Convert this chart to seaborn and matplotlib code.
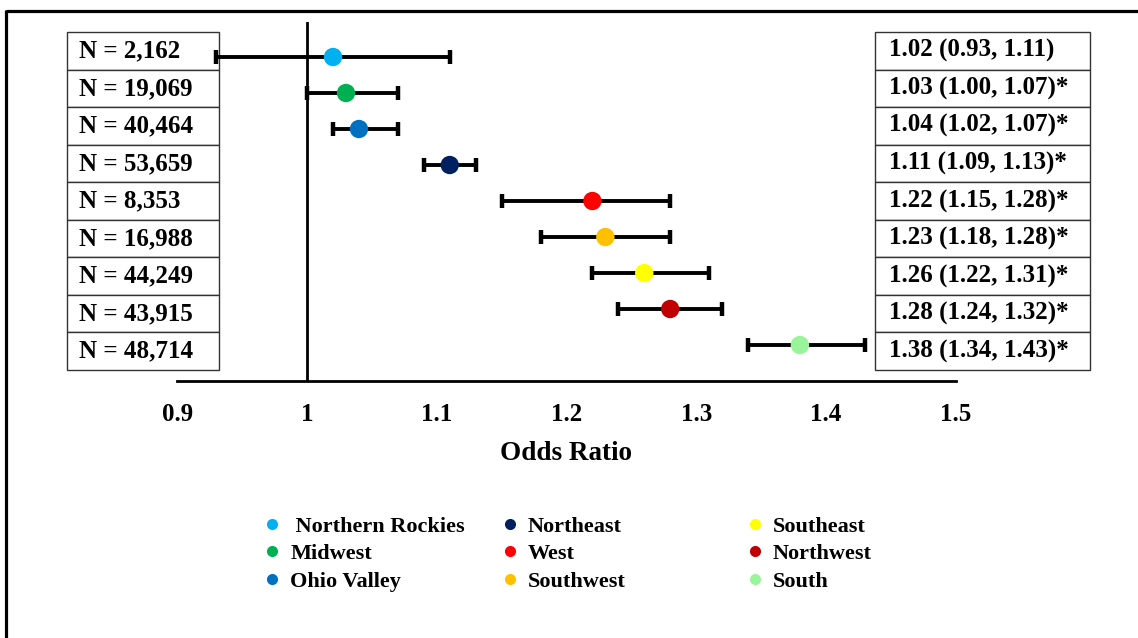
import matplotlib
matplotlib.use("Agg")
import matplotlib.pyplot as plt
from matplotlib.lines import Line2D
from matplotlib.patches import Rectangle
import pandas as pd
import seaborn as sns

# ---- data -------------------------------------------------------------
regions = ["Northern Rockies", "Midwest", "Ohio Valley", "Northeast", "West",
           "Southwest", "Southeast", "Northwest", "South"]
sample_sizes = ["N = 2,162", "N = 19,069", "N = 40,464", "N = 53,659", "N = 8,353",
                "N = 16,988", "N = 44,249", "N = 43,915", "N = 48,714"]
odds_ratio = [1.02, 1.03, 1.04, 1.11, 1.22, 1.23, 1.26, 1.28, 1.38]
ci_lower = [0.93, 1.00, 1.02, 1.09, 1.15, 1.18, 1.22, 1.24, 1.34]
ci_upper = [1.11, 1.07, 1.07, 1.13, 1.28, 1.28, 1.31, 1.32, 1.43]
significant = [False, True, True, True, True, True, True, True, True]
region_colors = ["#00B0F0", "#00B050", "#0070C0", "#002060", "#FF0000",
                 "#FFC000", "#FFFF00", "#C00000", "#99F599"]
x_ticks = [0.9, 1.0, 1.1, 1.2, 1.3, 1.4, 1.5]
x_tick_labels = ["0.9", "1", "1.1", "1.2", "1.3", "1.4", "1.5"]

df = pd.DataFrame({"region": regions, "or": odds_ratio, "lo": ci_lower,
                   "hi": ci_upper, "row": range(len(regions))})

# ---- style ------------------------------------------------------------
sns.set_theme(style="white")
plt.rcParams["font.family"] = ["Liberation Serif", "DejaVu Serif"]
plt.rcParams["font.weight"] = "bold"
plt.rcParams["text.color"] = "black"
plt.rcParams["axes.labelcolor"] = "black"
plt.rcParams["xtick.color"] = "black"
plt.rcParams["ytick.color"] = "black"

W, H = 1138, 638
fig = plt.figure(figsize=(W / 100, H / 100), dpi=100)
fig.patch.set_facecolor("white")

# pixel-space overlay for frame and side tables
bg = fig.add_axes([0, 0, 1, 1], zorder=0)
bg.set_xlim(0, W)
bg.set_ylim(H, 0)
bg.axis("off")

# outer frame (top and left edges)
bg.plot([6.5, W], [10.5, 10.5], color="black", lw=2.3, solid_capstyle="butt")
bg.plot([6.5, 6.5], [9.5, H], color="black", lw=2.3, solid_capstyle="butt")

# side tables
row_top, row_h = 32.0, 37.56
left_tab = (67, 219)
right_tab = (875, 1090)
for i in range(len(regions)):
    y0 = row_top + i * row_h
    for (xa, xb) in (left_tab, right_tab):
        bg.add_patch(Rectangle((xa, y0), xb - xa, row_h, facecolor="white",
                               edgecolor="#333333", lw=1.0))
    bg.text(left_tab[0] + 12, y0 + row_h / 2, sample_sizes[i], fontsize=18,
            fontweight="bold", va="center", ha="left", color="black")
    label = f"{odds_ratio[i]:.2f} ({ci_lower[i]:.2f}, {ci_upper[i]:.2f})"
    if significant[i]:
        label += "*"
    bg.text(right_tab[0] + 14, y0 + row_h / 2, label, fontsize=18,
            fontweight="bold", va="center", ha="left", color="black")

# ---- forest plot ------------------------------------------------------
x_px0, x_px1 = 177.4, 955.5
y_top, y_bot = 22.0, 381.0
ax = fig.add_axes([x_px0 / W, 1 - y_bot / H, (x_px1 - x_px0) / W,
                   (y_bot - y_top) / H], zorder=2)
ax.set_facecolor("none")
ax.set_xlim(0.9, 1.5)
ax.set_ylim((y_bot - 57) / 36, (y_top - 57) / 36)

ax.axvline(1.0, color="black", lw=2.0, zorder=1)
ax.errorbar(df["or"], df["row"],
            xerr=[df["or"] - df["lo"], df["hi"] - df["or"]],
            fmt="none", ecolor="black", elinewidth=2.8, capsize=5,
            capthick=3.2, zorder=2)
sns.scatterplot(data=df, x="or", y="row", hue="region", palette=region_colors,
                s=175, edgecolor="none", linewidth=0, legend=False, ax=ax,
                zorder=3)

for side in ("left", "top", "right"):
    ax.spines[side].set_visible(False)
ax.spines["bottom"].set_color("black")
ax.spines["bottom"].set_linewidth(2.0)
ax.set_yticks([])
ax.set_ylabel("")
ax.set_xticks(x_ticks)
ax.set_xticklabels(x_tick_labels, fontsize=18, fontweight="bold", color="black")
ax.tick_params(axis="x", length=0, pad=16, colors="black")
ax.set_xlabel("Odds Ratio", fontsize=19.5, fontweight="bold", labelpad=11,
              color="black")
ax.grid(False)

# ---- legend: three columns ---------------------------------------------
handles = [Line2D([], [], marker="o", linestyle="", markersize=8,
                  markerfacecolor=c, markeredgewidth=0) for c in region_colors]
labels = [" " + regions[0]] + regions[1:]
col_left = [263, 501, 746]
for c in range(3):
    idx = range(c * 3, c * 3 + 3)
    leg = fig.legend([handles[i] for i in idx], [labels[i] for i in idx],
                     loc="upper left", bbox_to_anchor=(col_left[c] / W, 1 - 516 / H),
                     frameon=False, borderpad=0, borderaxespad=0,
                     handlelength=0.8, handletextpad=0.42, labelspacing=0.32,
                     prop={"family": "Liberation Serif", "weight": "bold", "size": 16})
    for t in leg.get_texts():
        t.set_color("black")

fig.savefig("out.png", dpi=100, facecolor="white")
